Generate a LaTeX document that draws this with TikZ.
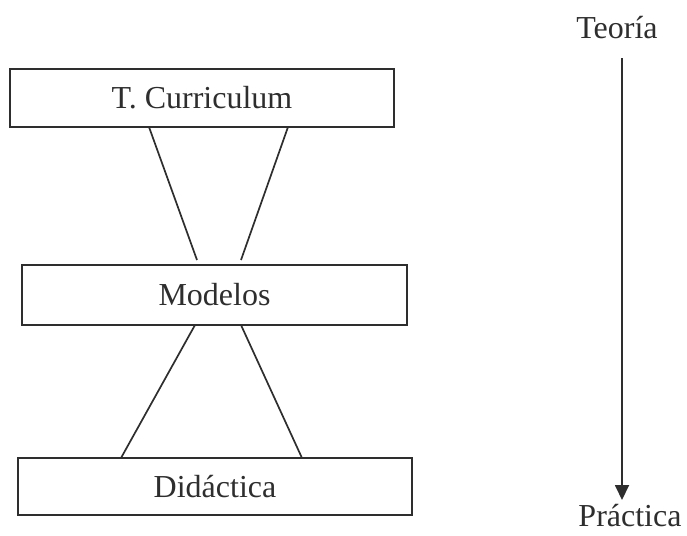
\documentclass[tikz,border=0pt]{standalone}
\usepackage{fontspec}
\setmainfont{Liberation Serif}
\usetikzlibrary{arrows.meta}
\definecolor{ink}{HTML}{2E2E2E}
\begin{document}
\begin{tikzpicture}[x=1pt,y=-1pt,
  every node/.style={font=\fontsize{32}{38}\selectfont, text=ink},
  level/.style={draw=ink, line width=1.8pt, inner sep=0pt},
  link/.style={draw=ink, line width=1.7pt},
  label/.style={anchor=base, inner sep=0pt}]
\useasboundingbox (0,0) rectangle (687,535);
% the three stacked levels
\node[level, minimum width=384pt, minimum height=58pt] (curr) at (202,98) {T. Curriculum};
\node[level, minimum width=385pt, minimum height=60pt] (mod) at (214.5,295) {Modelos};
\node[level, minimum width=394pt, minimum height=57pt] (did) at (215,486.5) {Didáctica};
% connecting lines between the levels
\coordinate (c1) at (149,127);
\coordinate (c2) at (288,127);
\coordinate (m1) at (197,260);
\coordinate (m2) at (241,260);
\coordinate (m3) at (195,325);
\coordinate (m4) at (241,325);
\coordinate (d1) at (121,458);
\coordinate (d2) at (302,458);
\draw[link] (c1) -- (m1);
\draw[link] (c2) -- (m2);
\draw[link] (m3) -- (d1);
\draw[link] (m4) -- (d2);
% theory-to-practice scale
\node[label] (teo) at (617,38) {Teoría};
\node[label] (pra) at (630,526) {Práctica};
\coordinate (top) at (622,58);
\coordinate (tip) at (622,500);
\draw[draw=ink, line width=1.8pt, -{Triangle[width=14pt,length=15pt]}] (top) -- (tip);
\end{tikzpicture}
\end{document}
